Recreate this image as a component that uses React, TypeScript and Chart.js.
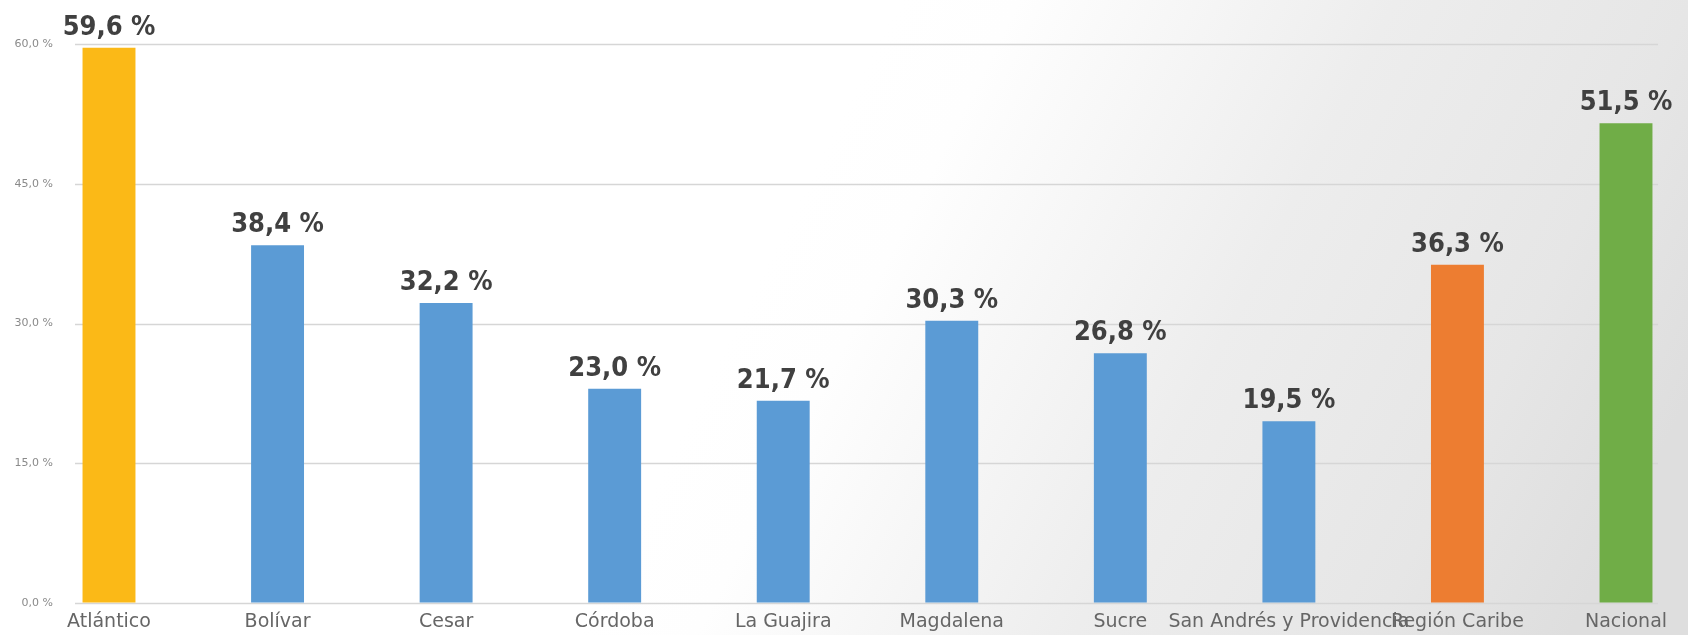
import React, { useEffect, useRef } from "react";
import { Chart, registerables } from "chart.js";

Chart.register(...registerables);

const categories: string[] = [
  "Atlántico",
  "Bolívar",
  "Cesar",
  "Córdoba",
  "La Guajira",
  "Magdalena",
  "Sucre",
  "San Andrés y Providencia",
  "Región Caribe",
  "Nacional",
];

const values: number[] = [59.6, 38.4, 32.2, 23.0, 21.7, 30.3, 26.8, 19.5, 36.3, 51.5];

const barColors: string[] = [
  "#FBB917",
  "#5B9BD5",
  "#5B9BD5",
  "#5B9BD5",
  "#5B9BD5",
  "#5B9BD5",
  "#5B9BD5",
  "#5B9BD5",
  "#ED7D31",
  "#70AD47",
];

const yTicks: number[] = [0, 15, 30, 45, 60];

const fmt = (v: number) => v.toFixed(1).replace(".", ",") + " %";

const W = 1688;
const H = 635;

const backgroundPlugin = {
  id: "bgGradient",
  beforeDraw(chart: any) {
    const ctx = chart.ctx;
    ctx.save();
    const g = ctx.createLinearGradient(900, 0, 1688, 400);
    g.addColorStop(0, "#ffffff");
    g.addColorStop(0.12, "#fefefe");
    g.addColorStop(0.5, "#ededed");
    g.addColorStop(0.8, "#e6e6e6");
    g.addColorStop(1, "#dedede");
    ctx.fillStyle = g;
    ctx.fillRect(0, 0, W, H);
    ctx.restore();
  },
};

const gridPlugin = {
  id: "customGrid",
  beforeDatasetsDraw(chart: any) {
    const ctx = chart.ctx;
    const y = chart.scales.y;
    ctx.save();
    ctx.strokeStyle = "#d6d6d6";
    ctx.lineWidth = 1.5;
    yTicks.forEach((t) => {
      const py = Math.round(y.getPixelForValue(t)) + 0.5;
      ctx.beginPath();
      ctx.moveTo(75, py);
      ctx.lineTo(1658, py);
      ctx.stroke();
    });
    ctx.restore();
  },
};

const labelPlugin = {
  id: "valueLabels",
  afterDatasetsDraw(chart: any) {
    const ctx = chart.ctx;
    const meta = chart.getDatasetMeta(0);
    ctx.save();
    ctx.font = "bold 27px 'DejaVu Sans Condensed', 'DejaVu Sans'";
    ctx.fillStyle = "#404040";
    ctx.textAlign = "center";
    ctx.textBaseline = "alphabetic";
    meta.data.forEach((bar: any, i: number) => {
      ctx.fillText(fmt(values[i]), bar.x, bar.y - 13);
    });
    ctx.restore();
  },
};

export default function App() {
  const ref = useRef<HTMLCanvasElement | null>(null);

  useEffect(() => {
    if (!ref.current) return;
    const chart = new Chart(ref.current, {
      type: "bar",
      data: {
        labels: categories,
        datasets: [
          {
            data: values,
            backgroundColor: barColors,
            borderWidth: 0,
            categoryPercentage: 1,
            barPercentage: 0.314,
            clip: false as any,
          },
        ],
      },
      options: {
        animation: false,
        responsive: false,
        maintainAspectRatio: false,
        layout: {
          padding: { left: 0, right: 62, top: 44, bottom: 2 },
        },
        plugins: {
          legend: { display: false },
          tooltip: { enabled: false },
        },
        scales: {
          x: {
            offset: false,
            afterFit(scale: any) {
              scale.height = 30;
            },
            grid: { display: false, drawTicks: false },
            border: { display: false },
            ticks: {
              autoSkip: false,
              maxRotation: 0,
              minRotation: 0,
              padding: 8,
              color: "#666666",
              font: { family: "'DejaVu Sans'", size: 19 },
            },
          },
          y: {
            min: 0,
            max: 60,
            afterFit(scale: any) {
              scale.width = 109;
            },
            afterBuildTicks(scale: any) {
              scale.ticks = yTicks.map((v) => ({ value: v }));
            },
            grid: {
              display: true,
              drawOnChartArea: false,
              drawTicks: true,
              tickLength: 50,
              color: "rgba(0,0,0,0)",
            },
            border: { display: false },
            ticks: {
              padding: 6,
              color: "#8a8a8a",
              font: { family: "'DejaVu Sans'", size: 11 },
              callback: (v: any) => fmt(Number(v)),
            },
          },
        },
      },
      plugins: [backgroundPlugin, gridPlugin, labelPlugin],
    });
    return () => chart.destroy();
  }, []);

  return (
    <div style={{ position: "absolute", left: 0, top: 0, width: W, height: H }}>
      <canvas ref={ref} width={W} height={H} style={{ display: "block", width: W, height: H }} />
    </div>
  );
}
